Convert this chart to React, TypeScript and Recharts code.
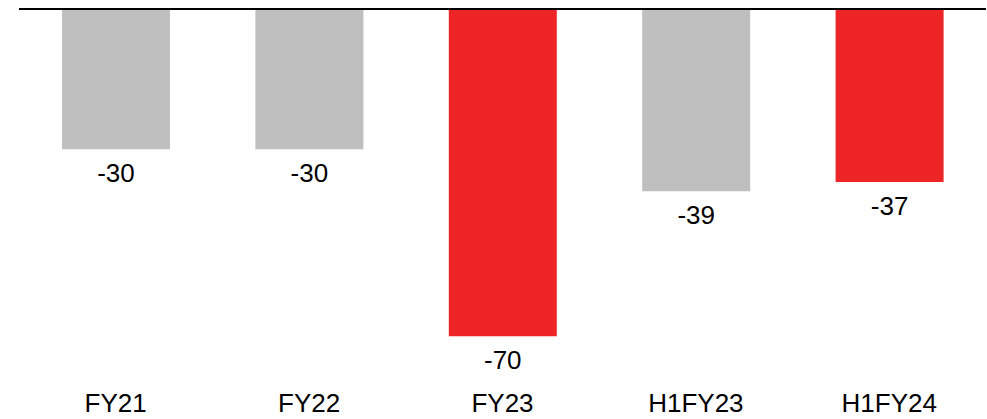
import React from "react";
import { BarChart, Bar, XAxis, YAxis, Cell, LabelList, ReferenceLine } from "recharts";

const categories = ["FY21", "FY22", "FY23", "H1FY23", "H1FY24"];
const values = [-30, -30, -70, -39, -37];
const barColors = ["#BFBFBF", "#BFBFBF", "#EE2526", "#BFBFBF", "#EE2526"];

const data = categories.map((c, i) => ({ name: c, value: values[i] }));

const FONT = "'Liberation Sans', Arial, sans-serif";

const ValueLabel = (props: any) => {
  const { x, y, width, height, value } = props;
  const bottom = Math.max(y, y + height);
  return (
    <text
      x={x + width / 2}
      y={bottom + 33}
      textAnchor="middle"
      fontFamily={FONT}
      fontSize={26}
      fill="#000"
    >
      {value}
    </text>
  );
};

const CategoryTick = (props: any) => {
  const { x, y, payload } = props;
  return (
    <text x={x} y={y + 29} textAnchor="middle" fontFamily={FONT} fontSize={26} fill="#000">
      {payload.value}
    </text>
  );
};

export default function App() {
  return (
    <div style={{ position: "absolute", left: 0, top: 0, width: 987, height: 419, background: "#fff" }}>
      <BarChart
        width={987}
        height={419}
        data={data}
        margin={{ top: 9, right: 1, bottom: 0, left: 19 }}
      >
        <XAxis
          dataKey="name"
          axisLine={false}
          tickLine={false}
          tickSize={0}
          tickMargin={0}
          height={36}
          interval={0}
          tick={<CategoryTick />}
        />
        <YAxis hide domain={[-80, 0]} />
        <Bar dataKey="value" barSize={108} isAnimationActive={false}>
          {data.map((d, i) => (
            <Cell key={d.name} fill={barColors[i]} />
          ))}
          <LabelList dataKey="value" content={<ValueLabel />} />
        </Bar>
        <ReferenceLine y={0} stroke="#000" strokeWidth={2} />
      </BarChart>
    </div>
  );
}
